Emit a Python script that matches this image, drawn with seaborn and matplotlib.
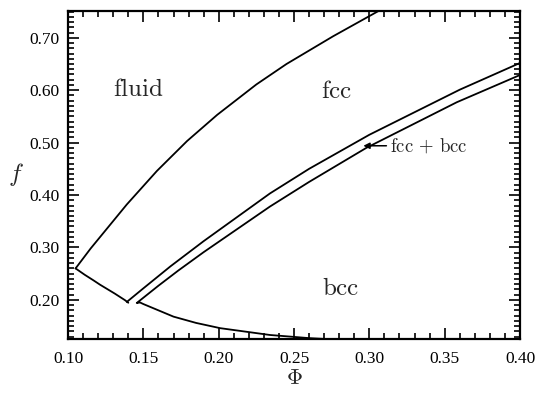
import matplotlib
matplotlib.use("Agg")
import matplotlib.pyplot as plt
import seaborn as sns
import pandas as pd
from matplotlib.ticker import MultipleLocator, FormatStrFormatter

# phase boundaries (Phi, f)
fluid_fcc_phi = [0.105, 0.115, 0.125, 0.139, 0.159, 0.179, 0.199, 0.225, 0.245, 0.276, 0.306]
fluid_fcc_f = [0.260, 0.298, 0.333, 0.382, 0.446, 0.503, 0.553, 0.611, 0.650, 0.703, 0.751]

fluid_bcc_phi = [0.105, 0.111, 0.117, 0.1212, 0.131, 0.1378, 0.1400]
fluid_bcc_f = [0.260, 0.248, 0.237, 0.229, 0.212, 0.1994, 0.1945]

fcc_upper_phi = [0.139, 0.150, 0.168, 0.190, 0.234, 0.260, 0.300, 0.360, 0.400]
fcc_upper_f = [0.196, 0.222, 0.264, 0.312, 0.403, 0.450, 0.515, 0.601, 0.652]

# lower coexistence line and the bcc lower boundary (joined at the V)
bcc_lower_phi = [0.400, 0.358, 0.298, 0.260, 0.234, 0.190, 0.1732, 0.160, 0.1456,
                 0.1478, 0.150, 0.160, 0.170, 0.185, 0.201, 0.234, 0.260, 0.280, 0.300]
bcc_lower_f = [0.629, 0.577, 0.490, 0.425, 0.378, 0.291, 0.256, 0.227, 0.194,
               0.195, 0.192, 0.180, 0.168, 0.156, 0.146, 0.133, 0.127, 0.124, 0.122]

curves = {
    "fluid_fcc": (fluid_fcc_phi, fluid_fcc_f),
    "fluid_bcc": (fluid_bcc_phi, fluid_bcc_f),
    "fcc_upper": (fcc_upper_phi, fcc_upper_f),
    "bcc_lower": (bcc_lower_phi, bcc_lower_f),
}

sns.set_style("ticks")
plt.rcParams["font.family"] = ["Liberation Serif", "DejaVu Serif"]
plt.rcParams["mathtext.fontset"] = "cm"

fig = plt.figure(figsize=(5.4, 3.95), dpi=100)
ax = fig.add_axes([0.126, 0.142, 0.837, 0.830])

for name, (phi, f) in curves.items():
    df = pd.DataFrame({"phi": phi, "f": f})
    sns.lineplot(data=df, x="phi", y="f", sort=False, estimator=None, errorbar=None,
                 color="black", lw=1.3, ax=ax)

ax.set_xlim(0.10, 0.40)
ax.set_ylim(0.1255, 0.751)
ax.xaxis.set_major_locator(MultipleLocator(0.05))
ax.xaxis.set_minor_locator(MultipleLocator(0.01))
ax.yaxis.set_major_locator(MultipleLocator(0.10))
ax.yaxis.set_minor_locator(MultipleLocator(0.01))
ax.xaxis.set_major_formatter(FormatStrFormatter("%.2f"))
ax.yaxis.set_major_formatter(FormatStrFormatter("%.2f"))
ax.tick_params(which="both", direction="in", top=True, right=True, width=1.2,
               labelsize=12.5, colors="black")
ax.tick_params(which="major", length=8, pad=6)
ax.tick_params(which="minor", length=4)
ax.tick_params(axis="x", which="major", pad=9)
for sp in ax.spines.values():
    sp.set_linewidth(1.6)
    sp.set_color("black")

ax.set_xlabel(r"$\Phi$", fontsize=16, labelpad=2)
ax.set_ylabel(r"$f$", fontsize=18, rotation=0, labelpad=10, va="center")

ax.text(0.1465, 0.600, r"$\mathrm{fluid}$", fontsize=18, ha="center", va="center")
ax.text(0.2783, 0.597, r"$\mathrm{fcc}$", fontsize=18, ha="center", va="center")
ax.text(0.281, 0.220, r"$\mathrm{bcc}$", fontsize=18, ha="center", va="center")
ax.annotate(r"$\mathrm{fcc}\,+\,\mathrm{bcc}$", xy=(0.296, 0.494), xytext=(0.3135, 0.494),
            fontsize=13.5, ha="left", va="center",
            arrowprops=dict(arrowstyle="-|>", color="black", lw=1.1, mutation_scale=9,
                            shrinkA=0, shrinkB=0))

fig.savefig("out.png", dpi=100)
